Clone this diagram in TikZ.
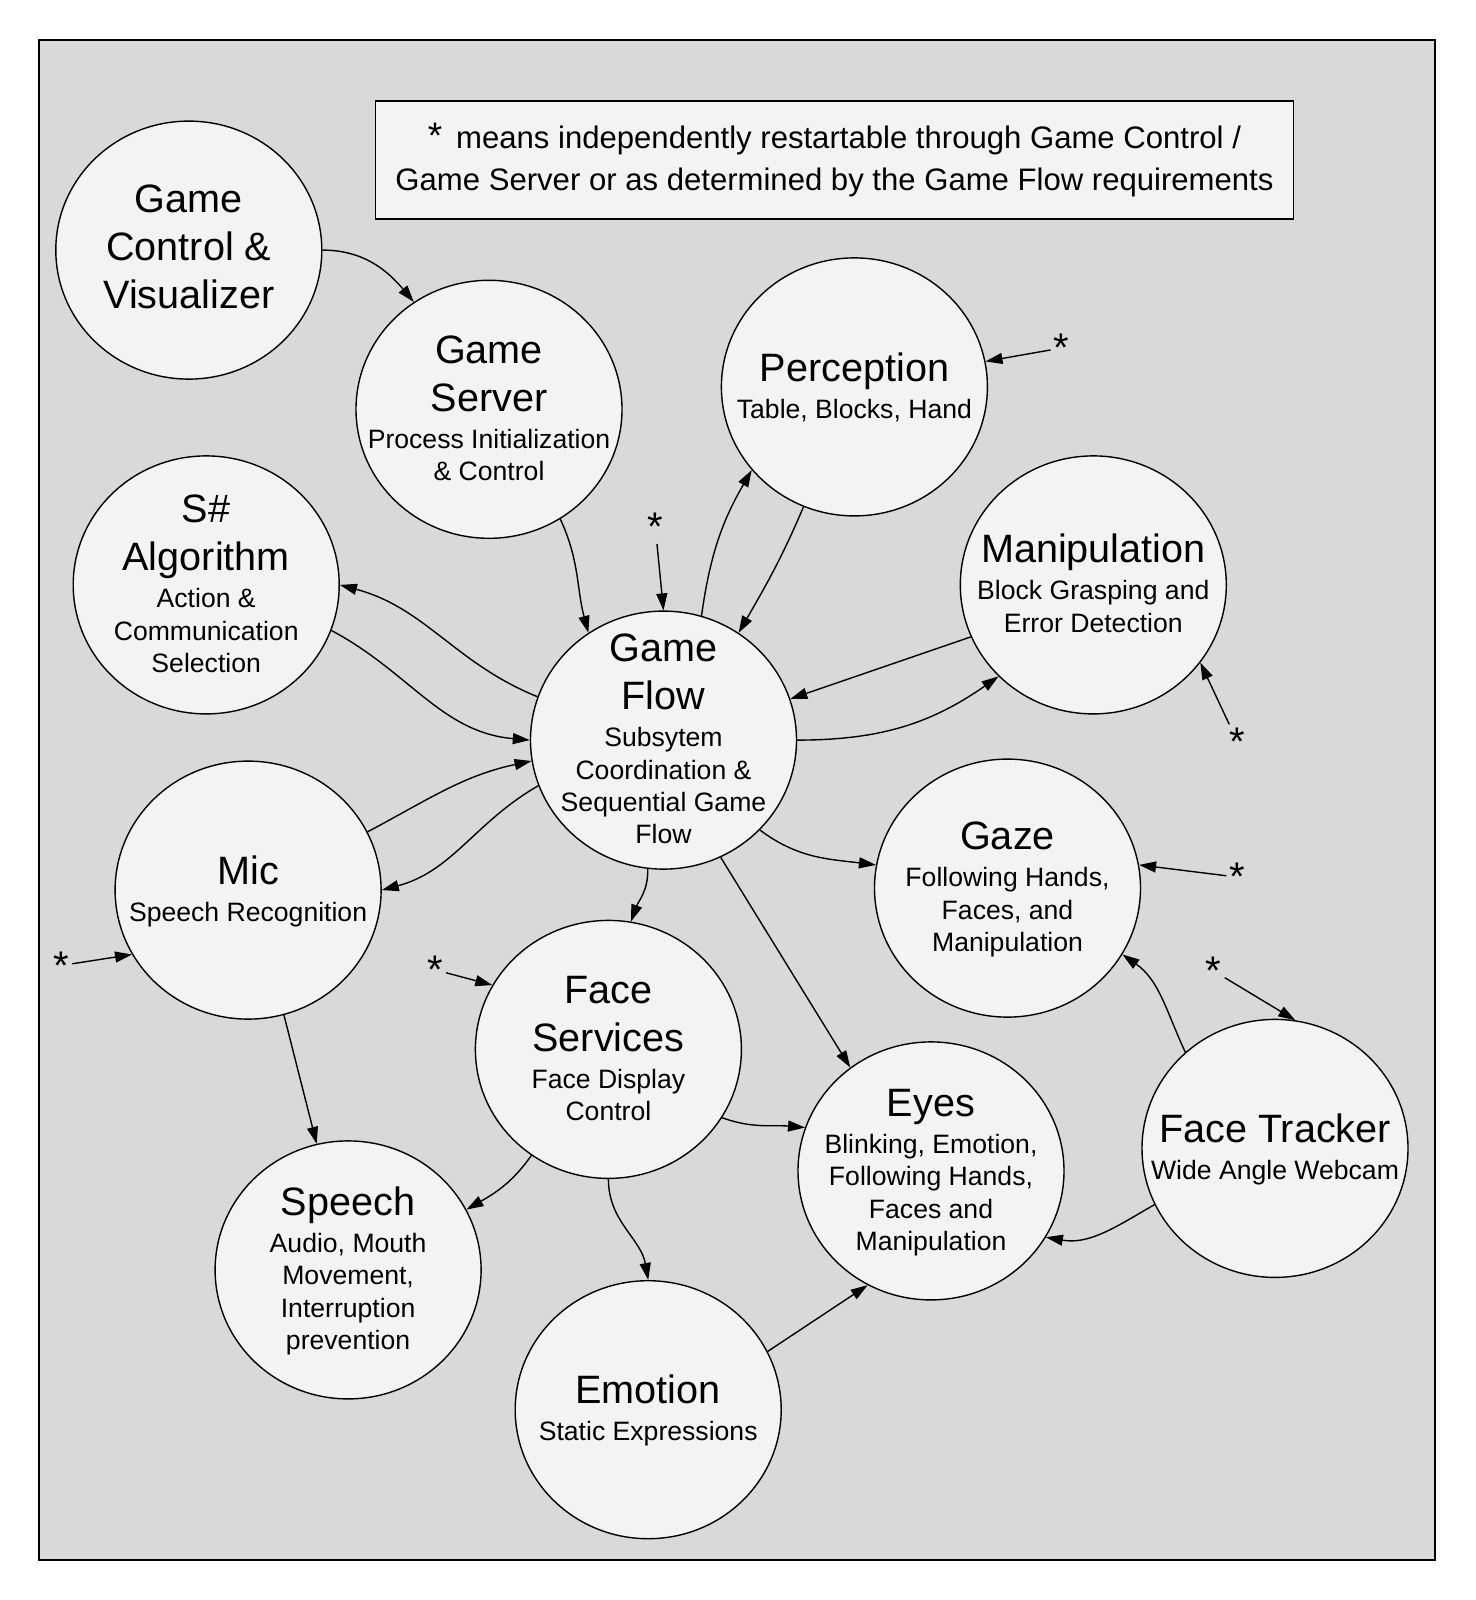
\documentclass[tikz,border=0pt]{standalone}
\usepackage{fontspec}
\setmainfont{Liberation Sans}
\usetikzlibrary{shapes.geometric, arrows.meta}

\definecolor{canvas}{HTML}{D9D9D9}
\definecolor{bubble}{HTML}{F3F3F3}

% one line of a module label: big name or small description
\newcommand{\ttl}[1]{{\fontsize{39.6}{48}\selectfont\rule[-13.7pt]{0pt}{48pt}#1}}
\newcommand{\dsc}[1]{{\fontsize{26.6}{32.3}\selectfont\rule[-9pt]{0pt}{32.3pt}#1}}
\newcommand{\tightlines}{\baselineskip=0pt\lineskip=0pt\lineskiplimit=0pt}

\tikzset{
  module/.style={ellipse, draw, line width=1.4pt, fill=bubble,
    minimum width=266pt, minimum height=258pt, inner sep=-150pt,
    align=center, font=\tightlines},
  link/.style={-{Triangle[length=17pt, width=11pt]}, line width=1.4pt},
  restart/.style={font=\fontsize{40}{40}\selectfont, inner sep=3pt}
}

\begin{document}
\begin{tikzpicture}[x=1pt, y=-1pt]
  \useasboundingbox (0,0) rectangle (1475,1600);

  % Frame
  \draw[line width=2.2pt, fill=canvas] (38.8,39.8) rectangle (1435.3,1559.8);

  % Note
  \node[draw, line width=1.6pt, fill=bubble, minimum width=918pt, minimum height=118pt,
    align=center, font=\fontsize{31.1}{41.8}\selectfont] (note) at (834.5,159.8)
    {{\fontsize{37}{37}\selectfont *}\, means independently restartable through Game Control /\\
     Game Server or as determined by the Game Flow requirements};

  % Subsystems
  \node[module] (gcv) at (188.8,250.1) {\ttl{Game}\\\ttl{Control \&}\\\ttl{Visualizer}};
  \node[module] (gs) at (489.0,409.3) {\ttl{Game}\\\ttl{Server}\\\dsc{Process Initialization}\\\dsc{\& Control}};
  \node[module] (perc) at (854.4,386.9) {\ttl{Perception}\\\dsc{Table, Blocks, Hand}};
  \node[module] (sharp) at (206.2,584.9) {\ttl{S\#}\\\ttl{Algorithm}\\\dsc{Action \&}\\\dsc{Communication}\\\dsc{Selection}};
  \node[module] (manip) at (1093.3,584.9) {\ttl{Manipulation}\\\dsc{Block Grasping and}\\\dsc{Error Detection}};
  \node[module] (gf) at (663.5,740.1) {\ttl{Game}\\\ttl{Flow}\\\dsc{Subsytem}\\\dsc{Coordination \&}\\\dsc{Sequential Game}\\\dsc{Flow}};
  \node[module] (mic) at (248.1,890.1) {\ttl{Mic}\\\dsc{Speech Recognition}};
  \node[module] (gaze) at (1007.5,888.1) {\ttl{Gaze}\\\dsc{Following Hands,}\\\dsc{Faces, and}\\\dsc{Manipulation}};
  \node[module] (fs) at (608.4,1049.4) {\ttl{Face}\\\ttl{Services}\\\dsc{Face Display}\\\dsc{Control}};
  \node[module] (eyes) at (931.0,1170.9) {\ttl{Eyes}\\\dsc{Blinking, Emotion,}\\\dsc{Following Hands,}\\\dsc{Faces and}\\\dsc{Manipulation}};
  \node[module] (ft) at (1275.0,1148.4) {\ttl{Face Tracker}\\\dsc{Wide Angle Webcam}};
  \node[module] (speech) at (348.1,1269.9) {\ttl{Speech}\\\dsc{Audio, Mouth}\\\dsc{Movement,}\\\dsc{Interruption}\\\dsc{prevention}};
  \node[module] (emo) at (648.2,1409.7) {\ttl{Emotion}\\\dsc{Static Expressions}};

  % Restart marks
  \node[restart] (rgf) at (655.3,527) {*};
  \node[restart] (rperc) at (1061.6,348) {*};
  \node[restart] (rmanip) at (1237.2,741.3) {*};
  \node[restart] (rgaze) at (1237.2,877.1) {*};
  \node[restart] (rft) at (1213.7,971) {*};
  \node[restart] (rmic) at (61.2,965.5) {*};
  \node[restart] (rfs) at (434.9,969.8) {*};

  % Links
  \draw[link] (gcv.0) to[out=0, in=130] (gs.125);
  \draw[link] (gs.-57) to[out=-65, in=105] (gf.125);
  \draw[link] (gf.73) to[out=82, in=-120] (perc.219);
  \draw[link] (perc.-113) to[out=-113, in=60] (gf.55);
  \draw[link] (gf.161) to[out=158, in=-15] (sharp.0);
  \draw[link] (sharp.-20) to[out=-28, in=175] (gf.180);
  \draw[link] (manip.203) -- (gf.18);
  \draw[link] (gf.0) to[out=0, in=215] (manip.224);
  \draw[link] (mic.26) to[out=28, in=-168] (gf.189);
  \draw[link] (gf.200) to[out=210, in=15] (mic.0);
  \draw[link] (gf.-97) to[out=-88, in=70] (fs.80);
  \draw[link] (gf.-43) to[out=-37, in=173] (gaze.170);
  \draw[link] (gf.-64) -- (eyes.128);
  \draw[link] (ft.133) to[out=115, in=-35] (gaze.-30);
  \draw[link] (ft.205) to[out=210, in=-10] (eyes.-30);
  \draw[link] (mic.-74) -- (speech.104);
  \draw[link] (fs.-126) to[out=-125, in=30] (speech.27);
  \draw[link] (fs.-31) to[out=-20, in=175] (eyes.161);
  \draw[link] (fs.-90) to[out=-90, in=100] (emo.90);
  \draw[link] (emo.26) -- (eyes.241);

  % Restart links
  \draw[link] (rgf) -- (gf.90);
  \draw[link] (rperc) -- (perc.11);
  \draw[link] (rmanip) -- (manip.-36);
  \draw[link] (rgaze) -- (gaze.10);
  \draw[link] (rft) -- (ft.81);
  \draw[link] (rmic) -- (mic.209);
  \draw[link] (rfs) -- (fs.151);
\end{tikzpicture}
\end{document}
